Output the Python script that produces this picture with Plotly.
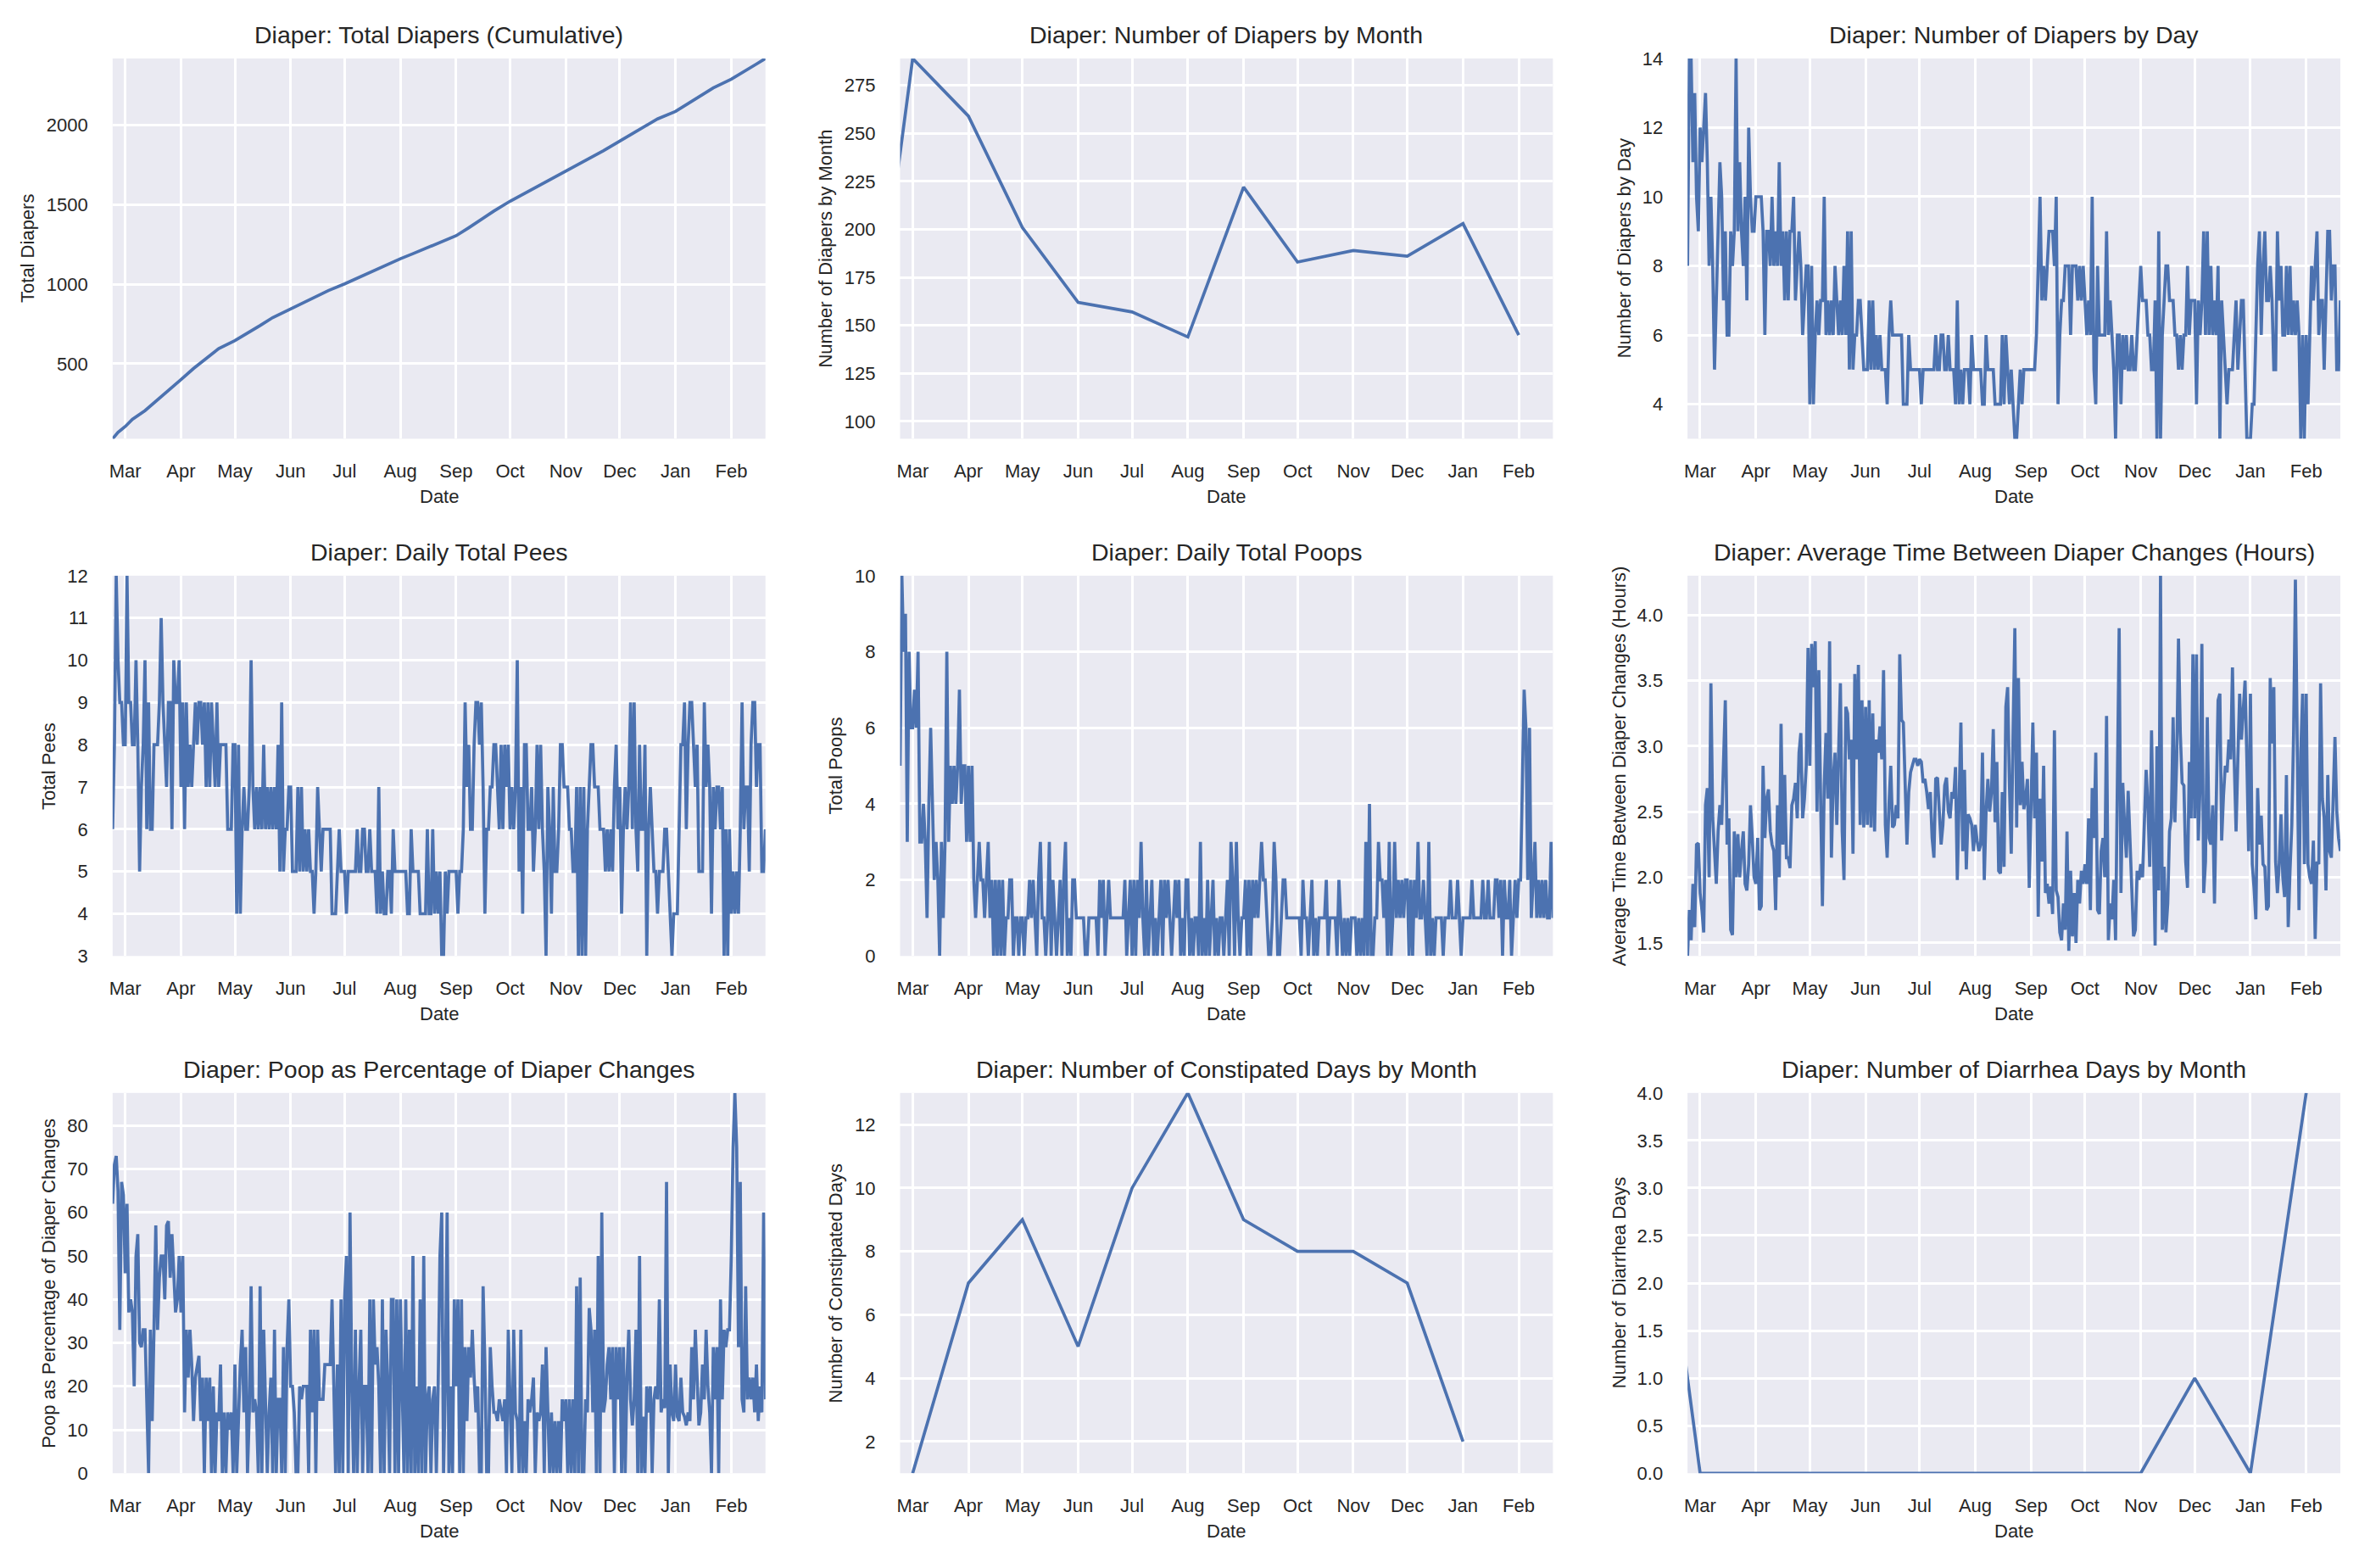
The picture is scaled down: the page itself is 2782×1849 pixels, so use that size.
import pandas as pd
import plotly.graph_objects as go
from plotly.subplots import make_subplots

# ---- data ----
START, END = '2023-02-22', '2024-02-20'
month_labels = ['Mar', 'Apr', 'May', 'Jun', 'Jul', 'Aug', 'Sep', 'Oct', 'Nov', 'Dec', 'Jan', 'Feb']
month_ticks = pd.date_range('2023-03-01', periods=12, freq='MS')

cum_dates = ['2023-02-22', '2023-02-25', '2023-03-01', '2023-03-05', '2023-03-12', '2023-03-18',
             '2023-03-25', '2023-04-01', '2023-04-08', '2023-04-15', '2023-04-22', '2023-05-01',
             '2023-05-08', '2023-05-15', '2023-05-22', '2023-06-01', '2023-06-08', '2023-06-15',
             '2023-06-22', '2023-07-01', '2023-07-08', '2023-07-15', '2023-07-22', '2023-08-01',
             '2023-08-08', '2023-08-15', '2023-08-22', '2023-09-01', '2023-09-08', '2023-09-15',
             '2023-09-22', '2023-10-01', '2023-10-08', '2023-10-15', '2023-10-22', '2023-11-01',
             '2023-11-08', '2023-11-15', '2023-11-22', '2023-12-01', '2023-12-08', '2023-12-15',
             '2023-12-22', '2024-01-01', '2024-01-08', '2024-01-15', '2024-01-22', '2024-02-01',
             '2024-02-08', '2024-02-15', '2024-02-20']
cum_total = [28, 68, 105, 150, 205, 262, 330, 400, 470, 535, 595, 645, 690, 740, 790, 845, 885,
             922, 960, 1002, 1038, 1075, 1110, 1160, 1192, 1225, 1258, 1305, 1355, 1410, 1460,
             1522, 1565, 1605, 1650, 1708, 1752, 1795, 1840, 1900, 1948, 1995, 2040, 2087, 2135,
             2185, 2235, 2290, 2335, 2385, 2420]

month_dates = pd.date_range('2023-02-01', '2024-02-01', freq='MS')
diapers_by_month = [91, 289, 259, 201, 162, 157, 144, 222, 183, 189, 186, 203, 145]
constipated_dates = pd.date_range('2023-03-01', '2024-01-01', freq='MS')
constipated_by_month = [1, 7, 9, 5, 10, 13, 9, 8, 8, 7, 2]
diarrhea_by_month = [4, 0, 0, 0, 0, 0, 0, 0, 0, 0, 1, 0, 4]

diapers_by_day = [
    8, 14, 14, 11, 13, 10, 9,
    12, 11, 12, 13, 11, 8, 10, 8, 5, 7, 9, 11, 10, 7, 9, 6, 6, 9, 8, 9, 14, 9, 11, 9, 8, 10, 7, 12, 10, 9, 9,
    10, 10, 10, 10, 9, 6, 9, 9, 8, 10, 8, 9, 8, 11, 8, 9, 7, 9, 7, 9, 9, 10, 7, 8, 9, 8, 6, 7, 8, 8,
    4, 8, 4, 6, 7, 6, 7, 7, 10, 6, 7, 6, 7, 6, 8, 7, 6, 7, 6, 8, 6, 9, 5, 9, 5, 6, 6, 7, 7, 6, 5,
    5, 5, 7, 5, 7, 5, 6, 5, 6, 5, 5, 5, 4, 6, 7, 6, 6, 6, 6, 6, 6, 4, 4, 4, 6, 5, 5, 5, 5, 5,
    5, 4, 5, 5, 5, 5, 5, 5, 5, 6, 5, 5, 6, 6, 5, 5, 6, 5, 5, 5, 4, 7, 4, 5, 4, 5, 5, 5, 4, 6, 5,
    5, 5, 5, 5, 4, 4, 6, 5, 5, 5, 5, 4, 4, 4, 4, 6, 4, 6, 5, 4, 5, 4, 3, 3, 4, 5, 4, 5, 5, 5, 5,
    5, 5, 5, 6, 8, 10, 7, 8, 7, 8, 9, 9, 9, 8, 10, 4, 6, 7, 7, 8, 8, 8, 6, 8, 8, 8, 7, 8, 7, 8,
    7, 6, 7, 6, 10, 5, 4, 8, 6, 6, 6, 6, 9, 6, 7, 6, 5, 3, 6, 6, 4, 6, 5, 6, 5, 5, 6, 5, 5, 6, 7,
    8, 7, 7, 7, 6, 6, 5, 5, 7, 3, 9, 3, 6, 7, 8, 8, 7, 7, 7, 6, 6, 5, 6, 5, 6, 6, 8, 6, 7, 7,
    7, 4, 7, 6, 7, 9, 6, 9, 6, 8, 6, 7, 6, 8, 3, 7, 6, 5, 4, 5, 5, 5, 6, 7, 5, 6, 7, 7, 5, 3, 3,
    3, 4, 4, 6, 8, 9, 6, 8, 9, 7, 7, 8, 7, 5, 5, 9, 7, 8, 6, 6, 8, 6, 8, 6, 7, 6, 7, 6, 3, 6, 3,
    6, 4, 6, 8, 7, 8, 9, 6, 7, 7, 5, 7, 9, 9, 7, 8, 8, 5, 5, 7,
]

pees_by_day = [
    6, 8, 12, 10, 9, 9, 8,
    8, 12, 9, 9, 8, 8, 10, 8, 5, 7, 8, 10, 6, 9, 6, 6, 8, 8, 8, 9, 11, 9, 8, 7, 9, 9, 6, 10, 9, 9, 10,
    7, 9, 6, 9, 7, 8, 7, 8, 9, 8, 9, 9, 8, 9, 7, 9, 7, 9, 8, 7, 9, 7, 8, 8, 8, 8, 6, 6, 6, 8,
    8, 4, 8, 4, 6, 7, 6, 6, 7, 10, 7, 6, 7, 6, 7, 6, 8, 6, 7, 6, 7, 6, 7, 6, 8, 5, 9, 5, 6, 6, 7,
    7, 5, 5, 5, 7, 5, 7, 5, 6, 5, 6, 5, 5, 4, 5, 7, 6, 5, 6, 6, 6, 6, 6, 4, 4, 4, 5, 6, 5, 5,
    5, 4, 5, 5, 5, 5, 5, 6, 5, 5, 6, 6, 5, 5, 6, 5, 5, 5, 4, 7, 4, 5, 4, 4, 5, 5, 4, 6, 5, 5, 5,
    5, 5, 5, 5, 4, 4, 6, 5, 5, 5, 5, 4, 4, 4, 4, 6, 4, 4, 6, 4, 5, 4, 5, 3, 3, 5, 4, 5, 5, 5, 5,
    5, 4, 5, 5, 6, 9, 7, 8, 6, 6, 8, 9, 9, 8, 9, 7, 4, 6, 6, 7, 7, 8, 8, 7, 6, 8, 6, 8, 7, 8,
    6, 7, 6, 7, 10, 5, 7, 4, 8, 8, 6, 6, 7, 5, 6, 8, 6, 8, 6, 5, 3, 7, 6, 4, 7, 5, 5, 6, 8, 8, 7,
    7, 7, 6, 6, 5, 5, 7, 3, 7, 3, 7, 3, 6, 7, 8, 8, 7, 7, 7, 6, 6, 6, 5, 6, 5, 6, 5, 7, 8, 6,
    7, 4, 6, 7, 6, 7, 9, 6, 9, 6, 5, 8, 6, 6, 8, 3, 6, 7, 6, 5, 5, 4, 5, 5, 5, 6, 6, 5, 4, 3, 4,
    4, 4, 6, 8, 8, 9, 6, 8, 9, 9, 8, 7, 8, 5, 5, 5, 9, 7, 8, 7, 4, 7, 6, 7, 7, 6, 7, 3, 6, 3, 6,
    4, 5, 4, 5, 4, 6, 9, 6, 7, 7, 5, 8, 9, 9, 7, 8, 8, 5, 5, 6,
]

poops_by_day = [
    5, 10, 8, 9, 3, 8, 6,
    6, 7, 6, 8, 3, 3, 4, 3, 1, 4, 6, 4, 2, 3, 2, 0, 3, 1, 3, 8, 3, 5, 4, 5, 4, 5, 7, 4, 5, 5, 3,
    5, 3, 5, 2, 1, 2, 3, 2, 2, 1, 2, 3, 1, 2, 0, 2, 0, 2, 0, 2, 0, 1, 1, 2, 2, 0, 1, 1, 0, 1,
    1, 0, 1, 1, 2, 1, 2, 1, 0, 2, 3, 1, 1, 0, 1, 3, 0, 2, 1, 0, 1, 2, 0, 2, 3, 0, 1, 0, 2, 2, 1,
    1, 1, 1, 1, 0, 0, 1, 1, 1, 1, 1, 0, 2, 1, 2, 0, 1, 2, 1, 1, 1, 1, 1, 1, 1, 1, 2, 0, 1, 2,
    0, 2, 0, 2, 1, 3, 1, 0, 2, 0, 1, 2, 0, 1, 0, 1, 2, 0, 2, 1, 2, 1, 0, 1, 2, 1, 2, 0, 1, 0, 2,
    2, 0, 1, 0, 1, 1, 0, 3, 0, 1, 0, 2, 0, 1, 2, 0, 1, 0, 1, 1, 0, 1, 2, 0, 3, 2, 0, 3, 1, 0, 1,
    1, 2, 0, 2, 0, 2, 1, 2, 1, 2, 3, 2, 2, 1, 0, 0, 1, 3, 2, 0, 0, 1, 2, 2, 1, 1, 1, 1, 1, 1,
    1, 1, 0, 2, 1, 1, 0, 1, 2, 0, 1, 0, 1, 1, 1, 1, 2, 0, 1, 1, 1, 1, 0, 2, 1, 0, 1, 0, 1, 0, 1,
    1, 1, 0, 1, 0, 1, 0, 3, 0, 4, 0, 0, 1, 1, 3, 2, 2, 1, 2, 0, 3, 0, 1, 3, 1, 2, 1, 2, 1, 2,
    2, 0, 2, 0, 2, 1, 3, 1, 1, 2, 1, 0, 3, 0, 1, 0, 1, 1, 1, 1, 0, 1, 1, 1, 2, 1, 1, 1, 2, 1, 0,
    1, 1, 1, 1, 1, 2, 1, 1, 1, 1, 1, 2, 1, 1, 2, 1, 1, 1, 2, 2, 1, 2, 0, 2, 1, 1, 2, 0, 1, 2, 1,
    2, 2, 5, 7, 6, 2, 6, 1, 2, 3, 1, 2, 1, 2, 1, 2, 1, 1, 3, 1,
]

hours_between_changes = [
    1.40, 1.75, 1.52, 1.95, 1.62, 2.25, 2.26,
    1.88, 1.75, 1.58, 2.55, 2.68, 2.00, 3.48, 2.45, 2.20, 1.95, 2.35, 2.55, 2.40, 3.00, 3.35, 2.25,
    2.45, 1.60, 1.56, 2.35, 2.00, 2.33, 2.00, 2.20, 2.35, 1.95, 1.90, 2.10, 2.55, 2.30, 2.00,
    1.95, 2.30, 1.75, 1.78, 2.85, 2.30, 2.60, 2.67, 2.35, 2.25, 2.20, 1.75, 2.55, 2.00, 3.17, 2.25,
    2.78, 2.15, 2.15, 2.07, 2.55, 2.60, 2.72, 2.45, 2.95, 3.10, 2.45, 2.60, 2.85, 3.75,
    2.85, 3.78, 3.45, 3.80, 2.50, 3.58, 2.60, 1.78, 2.70, 3.10, 2.60, 3.80, 2.15, 2.75, 2.95, 2.40,
    2.95, 3.48, 2.35, 1.98, 3.30, 3.25, 2.90, 3.05, 2.18, 3.55, 2.90, 3.62, 2.40, 3.35, 2.38,
    3.30, 2.40, 3.35, 2.38, 3.25, 2.35, 3.05, 2.95, 3.15, 2.90, 3.58, 2.40, 2.15, 2.55, 2.85, 2.38,
    2.40, 2.55, 2.45, 3.70, 3.20, 3.18, 2.70, 2.25, 2.65, 2.80, 2.85, 2.90, 2.90, 2.85,
    2.90, 2.88, 2.72, 2.75, 2.65, 2.52, 2.65, 2.30, 2.15, 2.75, 2.76, 2.45, 2.25, 2.40, 2.70, 2.76,
    2.50, 2.45, 2.65, 2.60, 2.84, 1.98, 2.70, 3.18, 2.20, 2.82, 2.06, 2.48, 2.45, 2.40, 2.20,
    2.40, 2.28, 2.20, 2.25, 2.95, 1.98, 2.50, 2.75, 2.50, 2.65, 3.13, 2.42, 2.88, 2.05, 2.03, 2.65,
    2.08, 3.30, 3.45, 2.70, 2.18, 3.10, 3.90, 2.38, 3.52, 2.55, 2.88, 2.52, 2.60, 2.75, 1.92,
    2.55, 3.18, 2.45, 2.95, 1.70, 2.60, 2.12, 2.85, 1.88, 1.95, 1.80, 1.93, 1.72, 3.12, 1.90, 1.85,
    1.58, 1.52, 1.80, 1.60, 2.35, 1.44, 2.05, 1.55, 1.88, 1.50, 1.98, 1.80, 2.05, 1.95,
    2.10, 1.95, 2.45, 1.75, 2.68, 2.30, 2.95, 1.75, 1.72, 2.20, 2.30, 2.00, 3.23, 1.52, 1.80, 1.68,
    1.98, 1.52, 2.72, 3.90, 1.88, 2.72, 2.40, 2.15, 2.66, 2.30, 1.80, 1.55, 1.60, 2.05, 1.98,
    2.10, 2.00, 2.35, 2.82, 2.55, 2.08, 3.12, 2.10, 1.48, 3.00, 1.90, 4.30, 1.60, 2.08, 1.58, 1.80,
    2.35, 2.45, 3.22, 2.42, 2.90, 3.82, 3.10, 2.72, 2.70, 2.12, 1.92, 2.88, 2.45, 3.70,
    2.45, 3.70, 2.28, 2.70, 3.78, 1.88, 2.12, 3.22, 2.30, 2.25, 2.55, 1.80, 2.50, 3.35, 3.40, 2.28,
    2.62, 2.85, 2.80, 3.05, 2.90, 3.60, 2.88, 2.35, 2.90, 3.40, 3.05, 3.30, 3.50, 2.90, 2.20,
    3.40, 2.10, 1.92, 1.68, 2.68, 2.25, 2.47, 2.10, 2.08, 1.75, 1.78, 3.52, 3.02, 3.45, 2.12, 1.88,
    2.10, 2.48, 2.00, 1.85, 2.78, 1.62, 2.05, 2.40, 3.10, 4.27, 3.05, 1.75, 2.95, 3.40, 2.10,
    3.40, 2.10, 2.00, 1.95, 2.28, 1.53, 2.12, 2.10, 3.48, 2.60, 2.45, 1.90, 2.78, 2.20, 2.15, 2.60,
    3.07, 2.50, 2.30, 2.20,
]

poop_pct = [
    62, 71, 73, 65, 33, 67, 64,
    46, 62, 37, 40, 37, 20, 50, 55, 30, 29, 33, 33, 12, 0, 33, 12, 33, 57, 33, 45, 50, 50, 40, 57,
    58, 45, 55, 47, 37, 40, 50,
    37, 50, 14, 33, 22, 33, 25, 12, 22, 25, 27, 12, 22, 0, 22, 12, 22, 0, 20, 0, 14, 12, 25, 0, 14,
    0, 14, 10, 14, 0,
    25, 0, 14, 25, 33, 14, 29, 0, 14, 43, 14, 17, 14, 0, 43, 0, 33, 17, 0, 14, 22, 0, 33, 0, 17, 17,
    0, 29, 0, 29, 40,
    20, 20, 14, 0, 0, 20, 17, 20, 20, 20, 0, 33, 14, 33, 0, 33, 17, 17, 17, 25, 25, 25, 25, 40, 20,
    0, 25, 0, 40, 0,
    40, 50, 0, 60, 20, 0, 33, 0, 20, 33, 0, 20, 20, 0, 40, 0, 40, 25, 29, 20, 0, 40, 0, 33, 20, 0,
    40, 40, 0, 40, 0,
    40, 20, 0, 40, 0, 33, 0, 50, 0, 20, 0, 40, 0, 50, 0, 17, 20, 0, 17, 20, 0, 20, 50, 60, 0, 20,
    60, 0, 20, 0, 40,
    20, 40, 0, 40, 0, 29, 12, 29, 22, 33, 22, 14, 20, 0, 0, 43, 25, 0, 0, 29, 20, 14, 14, 12, 17, 14,
    12, 17, 0, 33,
    14, 0, 33, 14, 12, 0, 33, 0, 12, 0, 17, 14, 17, 22, 0, 14, 12, 14, 25, 0, 29, 17, 0, 14, 0, 12,
    0, 12, 0, 17, 12,
    17, 0, 17, 0, 17, 0, 43, 0, 45, 0, 0, 17, 14, 38, 33, 14, 33, 0, 50, 0, 60, 14, 17, 25, 29, 17,
    29, 0, 29, 17,
    29, 0, 29, 0, 22, 33, 17, 11, 17, 33, 0, 50, 0, 13, 0, 20, 14, 20, 0, 17, 20, 17, 40, 14, 17, 15,
    67, 0, 25, 14, 12,
    25, 13, 12, 22, 14, 13, 11, 14, 12, 29, 17, 33, 20, 11, 14, 25, 17, 33, 20, 14, 0, 29, 17, 29, 0,
    40, 17, 33, 29, 33, 33,
    50, 75, 87.5, 75, 29, 67, 17, 14, 43, 17, 22, 17, 22, 14, 25, 12, 20, 14, 60, 17,
]

days = pd.date_range(START, END, freq='D')

# ---- style ----
BLUE = '#4C72B0'
BG = '#EAEAF2'
TXT = '#262626'
FONT = 'Liberation Sans, Arial, sans-serif'

X_DOM = [(0.04637, 0.32351), (0.38066, 0.65780), (0.71495, 0.99209)]
Y_DOM = [(0.72293, 0.96879), (0.38853, 0.63440), (0.05414, 0.30000)]

fig = make_subplots(rows=3, cols=3)


def d(vals):
    return days[:len(vals)]


# row, col, x, y, title, y label, tick0, dtick, tickformat, y-label offset (px)
panels = [
    (1, 1, pd.to_datetime(cum_dates), cum_total, 'Diaper: Total Diapers (Cumulative)',
     'Total Diapers', 0, 500, None, 101),
    (1, 2, month_dates, diapers_by_month, 'Diaper: Number of Diapers by Month',
     'Number of Diapers by Month', 0, 25, None, 88),
    (1, 3, d(diapers_by_day), diapers_by_day, 'Diaper: Number of Diapers by Day',
     'Number of Diapers by Day', 0, 2, None, 75),
    (2, 1, d(pees_by_day), pees_by_day, 'Diaper: Daily Total Pees',
     'Total Pees', 0, 1, None, 76),
    (2, 2, d(poops_by_day), poops_by_day, 'Diaper: Daily Total Poops',
     'Total Poops', 0, 2, None, 76),
    (2, 3, d(hours_between_changes), hours_between_changes,
     'Diaper: Average Time Between Diaper Changes (Hours)',
     'Average Time Between Diaper Changes (Hours)', 0, 0.5, '.1f', 81),
    (3, 1, d(poop_pct), poop_pct, 'Diaper: Poop as Percentage of Diaper Changes',
     'Poop as Percentage of Diaper Changes', 0, 10, None, 76),
    (3, 2, constipated_dates, constipated_by_month, 'Diaper: Number of Constipated Days by Month',
     'Number of Constipated Days', 0, 2, None, 76),
    (3, 3, month_dates, diarrhea_by_month, 'Diaper: Number of Diarrhea Days by Month',
     'Number of Diarrhea Days', 0, 0.5, '.1f', 81),
]

annotations = []
for i, (r, c, xs, ys, title, ylab, t0, dt, fmt, yoff) in enumerate(panels):
    fig.add_trace(go.Scatter(x=xs, y=ys, mode='lines', line=dict(color=BLUE, width=3.7),
                             showlegend=False, hoverinfo='skip'), row=r, col=c)
    n = '' if i == 0 else str(i + 1)
    xd, yd = X_DOM[c - 1], Y_DOM[r - 1]
    fig.layout['xaxis' + n].update(
        domain=list(xd), type='date', range=[START, END],
        tickvals=list(month_ticks), ticktext=month_labels,
        showgrid=True, gridcolor='white', gridwidth=2.5, zeroline=False,
        showline=False, ticks='', ticklabelstandoff=23,
        tickfont=dict(size=22, color=TXT, family=FONT))
    fig.layout['yaxis' + n].update(
        domain=list(yd), range=[min(ys), max(ys)], tick0=t0, dtick=dt, tickformat=fmt,
        showgrid=True, gridcolor='white', gridwidth=2.5, zeroline=False,
        showline=False, ticks='', ticklabelstandoff=28,
        tickfont=dict(size=22, color=TXT, family=FONT))
    xm = (xd[0] + xd[1]) / 2
    annotations.append(dict(text=title, x=xm, y=yd[1], xref='paper', yref='paper',
                            xanchor='center', yanchor='middle', yshift=28, showarrow=False,
                            font=dict(size=28.5, color=TXT, family=FONT)))
    annotations.append(dict(text='Date', x=xm, y=yd[0], xref='paper', yref='paper',
                            xanchor='center', yanchor='middle', yshift=-68, showarrow=False,
                            font=dict(size=22, color=TXT, family=FONT)))
    annotations.append(dict(text=ylab, x=xd[0], y=(yd[0] + yd[1]) / 2, xref='paper',
                            yref='paper', xanchor='center', yanchor='middle', xshift=-yoff,
                            textangle=-90, showarrow=False,
                            font=dict(size=22, color=TXT, family=FONT)))

fig.update_layout(
    width=2782, height=1849,
    margin=dict(l=0, r=0, t=0, b=0),
    paper_bgcolor='white', plot_bgcolor=BG,
    font=dict(family=FONT, color=TXT),
    annotations=annotations,
)

fig.write_html('out.html', config={'displayModeBar': False},
               post_script="document.body.style.margin='0px';")
